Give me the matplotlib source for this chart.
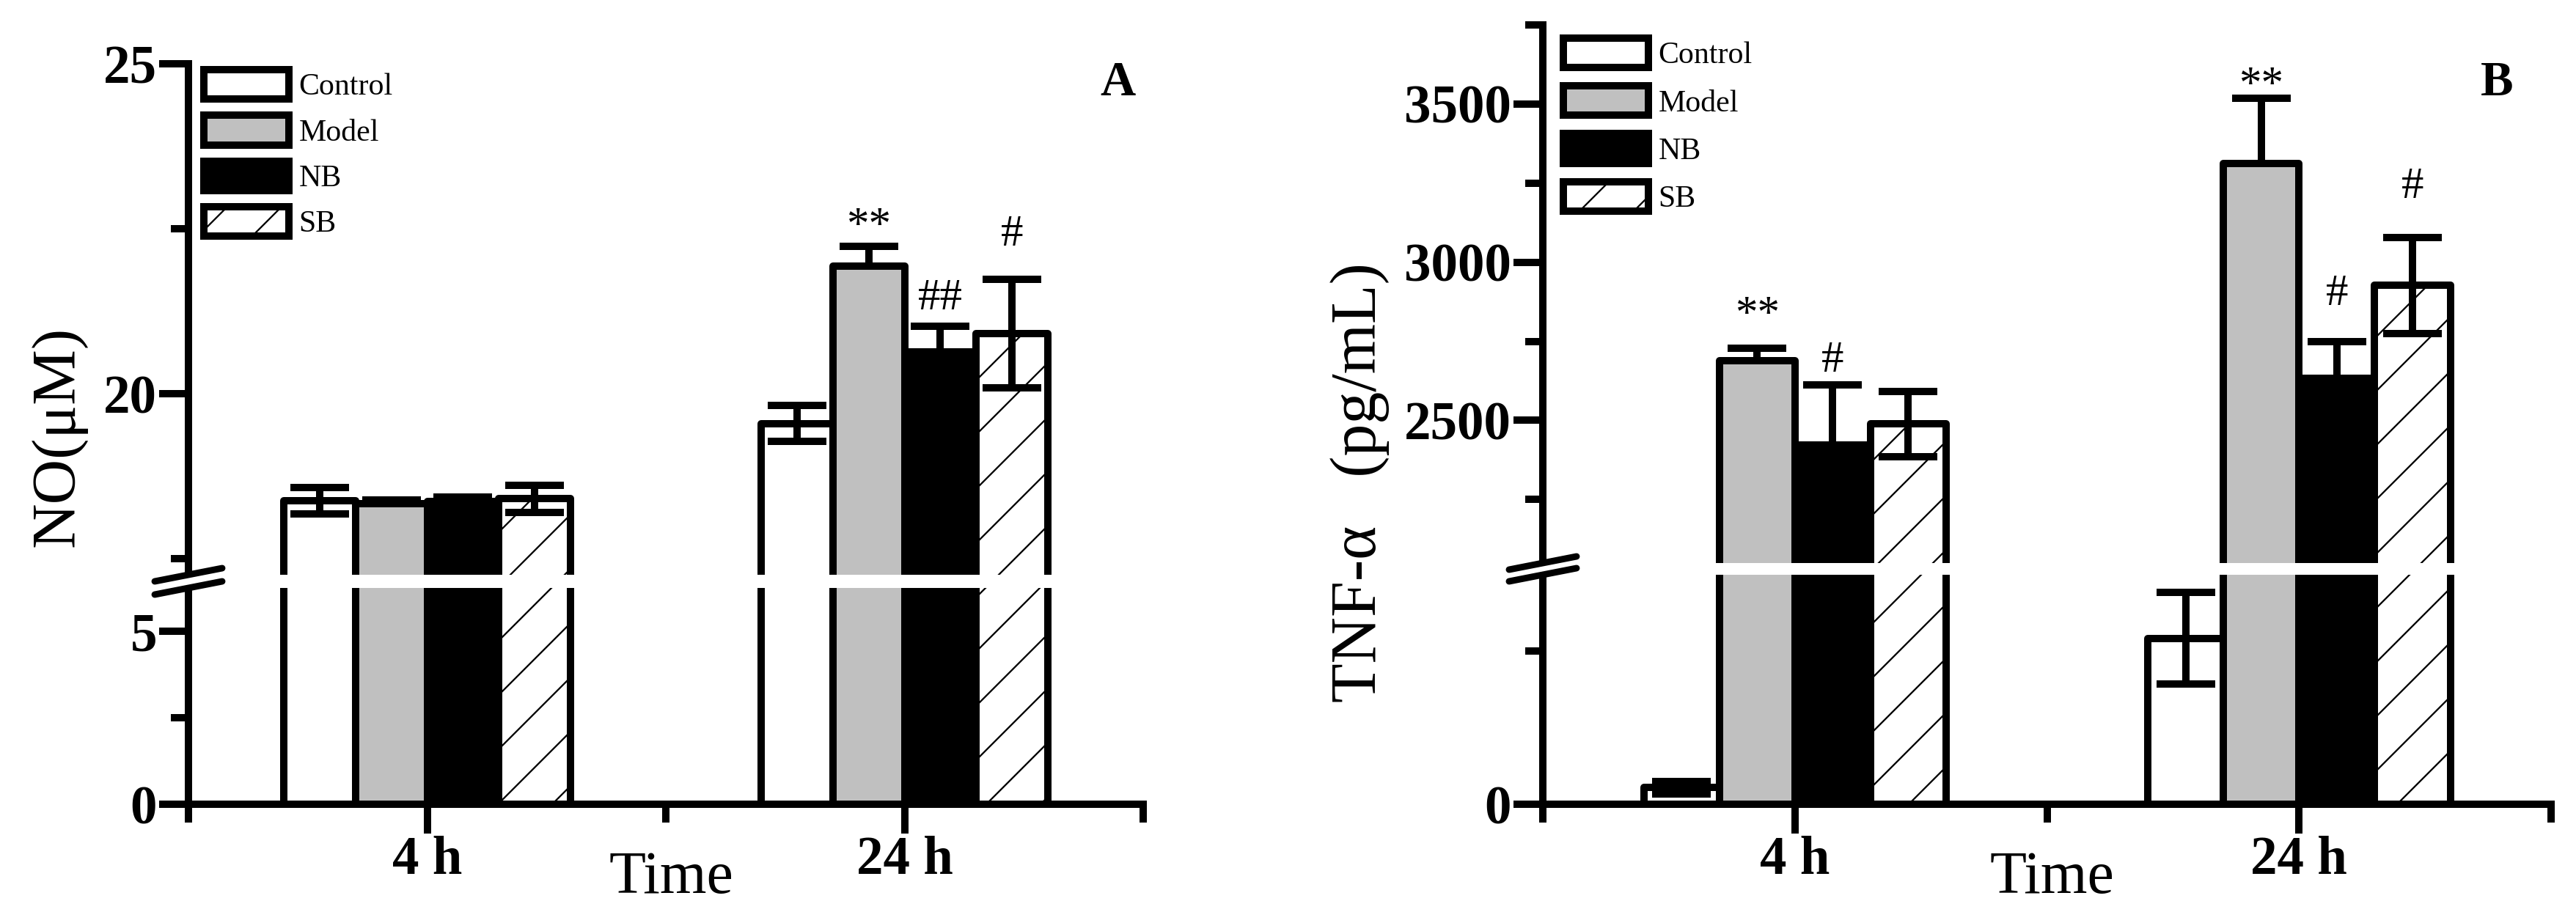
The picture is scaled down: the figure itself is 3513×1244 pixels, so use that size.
import numpy as np
import matplotlib
matplotlib.use('Agg')
import matplotlib.pyplot as plt
from matplotlib.lines import Line2D
from matplotlib.patches import Rectangle
from matplotlib.transforms import IdentityTransform

plt.rcParams['font.family'] = ['Liberation Serif', 'DejaVu Serif']
plt.rcParams['hatch.linewidth'] = 0.75
plt.rcParams['hatch.color'] = 'black'

groups = ['Control', 'Model', 'NB', 'SB']
times = ['4 h', '24 h']

# panel A: NO (uM), mean and error per group, at 4 h and 24 h
no_control = [18.38, 19.55]
no_model = [18.34, 21.93]
no_nb = [18.37, 20.64]
no_sb = [18.41, 20.91]
no_err_control = [0.20, 0.27]
no_err_model = [0.05, 0.31]
no_err_nb = [0.07, 0.39]
no_err_sb = [0.21, 0.82]

# panel B: TNF-alpha (pg/mL)
tnf_control = [27, 271]
tnf_model = [2688, 3312]
tnf_nb = [2421, 2633]
tnf_sb = [2489, 2927]
tnf_err_control = [10, 75]
tnf_err_model = [40, 206]
tnf_err_nb = [190, 115]
tnf_err_sb = [103, 152]

# significance marks: (group, time index, text, gap above error bar in px)
no_marks = [('Model', 1, '**', 12), ('NB', 1, '##', 23), ('SB', 1, '#', 46)]
tnf_marks = [('Model', 0, '**', 30), ('NB', 0, '#', 18), ('Model', 1, '**', 2),
             ('NB', 1, '#', 50), ('SB', 1, '#', 54)]

colors = {'Control': 'white', 'Model': '#c0c0c0', 'NB': 'black', 'SB': 'white'}
hatches = {'Control': None, 'Model': None, 'NB': None, 'SB': '/'}
two_sided = {'Control': True, 'Model': False, 'NB': False, 'SB': True}

DPI = 222
LW = 3.24
fig = plt.figure(figsize=(3513 / DPI, 1244 / DPI), dpi=DPI)


def broken_scale(vals, pix):
    lo_slope = (pix[1] - pix[0]) / (vals[1] - vals[0])
    hi_slope = (pix[-1] - pix[-2]) / (vals[-1] - vals[-2])
    xv = np.array([vals[0] - 1e6] + list(vals) + [vals[-1] + 1e6])
    xp = np.array([pix[0] - 1e6 * lo_slope] + list(pix) + [pix[-1] + 1e6 * hi_slope])

    def fwd(v):
        return np.interp(v, xv, xp)

    def inv(p):
        return np.interp(p, xp, xv)
    return fwd, inv


def draw_panel(rect, means, errs, marks, vals, pix, major, major_labels, minor,
               ylabel, ylabel_pos, letter, letter_pos, time_pos, legend_pos, spacing):
    ax = fig.add_axes(rect)
    ax.set_yscale('function', functions=broken_scale(vals, pix))
    ax.set_ylim(vals[0], vals[-1])
    ax.set_xlim(0.5, 2.5)
    x = np.array([1.0, 2.0])
    width = 0.15
    offsets = {'Control': -1.5 * width, 'Model': -0.5 * width,
               'NB': 0.5 * width, 'SB': 1.5 * width}
    handles = []
    for g in groups:
        b = ax.bar(x + offsets[g], means[g], width=width, color=colors[g],
                   edgecolor='black', linewidth=LW, hatch=hatches[g],
                   label=g, zorder=2, joinstyle='round')
        handles.append(b)
        lo = errs[g] if two_sided[g] else [0] * len(errs[g])
        ax.errorbar(x + offsets[g], means[g], yerr=[lo, errs[g]], fmt='none',
                    ecolor='black', elinewidth=LW, capsize=13, capthick=LW,
                    zorder=3)
    for g, i, txt, gap in marks:
        ax.annotate(txt, (x[i] + offsets[g], means[g][i] + errs[g][i]),
                    xytext=(0, gap), textcoords='offset pixels',
                    ha='center', va='baseline', fontsize=19.8, zorder=5)

    # white band of the axis break
    ax.add_patch(Rectangle((-0.012, vals[1]), 1.012, vals[2] - vals[1],
                           transform=ax.get_yaxis_transform(), facecolor='white',
                           edgecolor='none', zorder=4, clip_on=False))

    for s in ['top', 'right']:
        ax.spines[s].set_visible(False)
    for s in ['left', 'bottom']:
        ax.spines[s].set_linewidth(LW)
        ax.spines[s].set_capstyle('projecting')

    ax.set_yticks(major)
    ax.set_yticklabels(major_labels)
    ax.set_yticks(minor, minor=True)
    ax.set_xticks(x)
    ax.set_xticklabels(times)
    ax.set_xticks([0.5, 1.5, 2.5], minor=True)
    ax.tick_params(which='major', width=LW, length=13, labelsize=23.7, pad=1)
    ax.tick_params(which='minor', width=LW, length=7.8)
    ax.tick_params(axis='x', which='minor', length=8.2)
    for lab in ax.get_xticklabels() + ax.get_yticklabels():
        lab.set_fontweight('bold')

    ax.legend(handles=handles, labels=groups, loc='upper left',
              bbox_to_anchor=legend_pos, bbox_transform=fig.transFigure,
              frameon=False, fontsize=13.6, handlelength=2.76, handleheight=1.1,
              labelspacing=spacing, handletextpad=0.33, borderpad=0, borderaxespad=0)

    fig.text(ylabel_pos[0], ylabel_pos[1], ylabel, rotation=90, ha='center',
             va='center', fontsize=ylabel_pos[2])
    fig.text(time_pos[0], time_pos[1], 'Time', ha='center', va='center', fontsize=26.5)
    fig.text(letter_pos[0], letter_pos[1], letter, ha='center', va='center',
             fontsize=21.7, fontweight='bold')

    # break marks on the y axis
    x0 = ax.transAxes.transform((0, 0))[0]
    for v in vals[1:3]:
        y0 = ax.transData.transform((1, v))[1]
        fig.add_artist(Line2D([x0 - 46, x0 + 46], [y0 - 9, y0 + 9],
                              transform=IdentityTransform(), color='black',
                              linewidth=2.9, solid_capstyle='round', zorder=6))
    return ax


no_means = {'Control': no_control, 'Model': no_model, 'NB': no_nb, 'SB': no_sb}
no_errs = {'Control': no_err_control, 'Model': no_err_model, 'NB': no_err_nb, 'SB': no_err_sb}
tnf_means = {'Control': tnf_control, 'Model': tnf_model, 'NB': tnf_nb, 'SB': tnf_sb}
tnf_errs = {'Control': tnf_err_control, 'Model': tnf_err_model, 'NB': tnf_err_nb, 'SB': tnf_err_sb}

draw_panel([257 / 3513, 147 / 1244, 1302 / 3513, 1010 / 1244], no_means, no_errs, no_marks,
           [0, 6.25, 17.26, 25], [0, 295, 313, 1010],
           [0, 5, 20, 25], ['0', '5', '20', '25'], [2.5, 17.5, 22.5],
           'NO(\u03bcM)', (0.0228, 0.521, 27.6), 'A', (0.4341, 0.909), (0.2605, 0.037),
           (278 / 3513, 1 - 95 / 1244), 0.45)

draw_panel([2104 / 3513, 147 / 1244, 1375 / 3513, 1063 / 1244], tnf_means, tnf_errs, tnf_marks,
           [0, 375, 2049, 3750], [0, 313, 329, 1063],
           [0, 2500, 3000, 3500], ['0', '2500', '3000', '3500'], [250, 2250, 2750, 3250, 3750],
           'TNF-\u03b1   (pg/mL)', (0.528, 0.471, 28.5), 'B', (0.9693, 0.909), (0.7965, 0.037),
           (2132 / 3513, 1 - 52 / 1244), 0.52)

fig.savefig('out.png', dpi=DPI)
